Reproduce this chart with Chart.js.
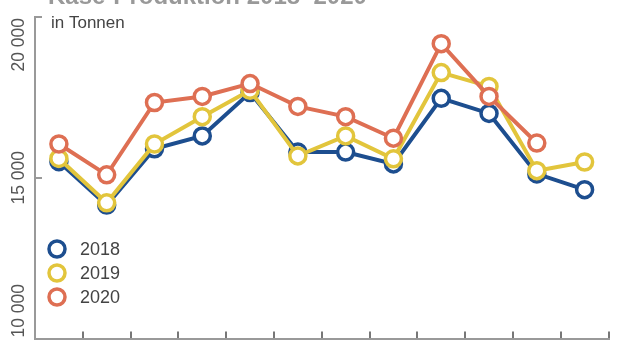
<!DOCTYPE html>
<html>
<head>
<meta charset="utf-8">
<script src="https://cdn.jsdelivr.net/npm/chart.js@4"></script>
<style>
  html, body { margin: 0; padding: 0; background: #fff; }
  #wrap { width: 620px; height: 350px; position: relative; }
</style>
</head>
<body>
<div id="wrap"><canvas id="prodChart" width="620" height="350"></canvas></div>
<script>
// months (12 bins)
var months = ['Jan', 'Feb', 'Mär', 'Apr', 'Mai', 'Jun', 'Jul', 'Aug', 'Sep', 'Okt', 'Nov', 'Dez'];
var years = ['2018', '2019', '2020'];
var data2018 = [15500, 14150, 15900, 16300, 17650, 15800, 15800, 15430, 17470, 17000, 15120, 14630];
var data2019 = [15600, 14220, 16050, 16900, 17720, 15680, 16300, 15590, 18270, 17840, 15220, 15490];
var data2020 = [16050, 15090, 17340, 17530, 17930, 17220, 16900, 16230, 19170, 17530, 16080, null];
var yTicks = [10000, 15000, 20000];
var colors = ['#1d4e8f', '#e2c53c', '#de6f53'];

function fmt(v) {
  return String(v).replace(/\B(?=(\d{3})+(?!\d))/g, ' ');
}

// y labels are drawn rotated, first/last kept inside the axis
var extras = {
  id: 'extras',
  afterDraw: function (chart) {
    var ctx = chart.ctx;
    var y = chart.scales.y;
    ctx.save();
    ctx.fillStyle = '#555';
    ctx.font = '17.5px "Liberation Sans", Arial, sans-serif';
    ctx.textBaseline = 'alphabetic';
    yTicks.forEach(function (v, i) {
      var py = y.getPixelForValue(v);
      ctx.save();
      ctx.translate(24, py);
      ctx.rotate(-Math.PI / 2);
      ctx.textAlign = i === 0 ? 'left' : (i === yTicks.length - 1 ? 'right' : 'center');
      ctx.fillText(fmt(v), i === 0 ? 1 : (i === yTicks.length - 1 ? -1 : 0), 0);
      ctx.restore();
    });

    // unit text
    ctx.fillStyle = '#444';
    ctx.font = '17px "Liberation Sans Narrow", "Liberation Sans", sans-serif';
    ctx.textAlign = 'left';
    ctx.fillText('in Tonnen', 51, 28);

    // title, mostly cut off at the top
    ctx.fillStyle = '#999';
    ctx.font = 'bold 24px "Liberation Sans Narrow", "Liberation Sans", sans-serif';
    ctx.fillText('Käse-Produktion 2018–2020', 48, 4);

    // legend
    ctx.font = '18px "Liberation Sans", Arial, sans-serif';
    ctx.textBaseline = 'middle';
    chart.data.datasets.forEach(function (ds, i) {
      var cy = 249 + i * 24;
      ctx.beginPath();
      ctx.arc(57, cy, 8, 0, Math.PI * 2);
      ctx.fillStyle = '#fff';
      ctx.fill();
      ctx.lineWidth = 3.5;
      ctx.strokeStyle = ds.borderColor;
      ctx.stroke();
      ctx.fillStyle = '#444';
      ctx.fillText(ds.label, 80, cy + 1);
    });
    ctx.restore();
  }
};

function makeSet(label, values, color, order) {
  return {
    label: label,
    data: values,
    borderColor: color,
    backgroundColor: '#fff',
    pointBackgroundColor: '#fff',
    pointBorderColor: color,
    pointRadius: 8,
    pointBorderWidth: 3.5,
    borderWidth: 4,
    tension: 0,
    fill: false,
    order: order
  };
}

var ctx = document.getElementById('prodChart').getContext('2d');
var chart = new Chart(ctx, {
  type: 'line',
  data: {
    labels: months,
    datasets: [
      makeSet(years[0], data2018, colors[0], 2),
      makeSet(years[1], data2019, colors[1], 1),
      makeSet(years[2], data2020, colors[2], 0)
    ]
  },
  options: {
    responsive: false,
    animation: false,
    layout: { padding: { top: 17, right: 9, left: 0, bottom: 0 } },
    plugins: {
      legend: { display: false },
      tooltip: { enabled: false },
      title: { display: false }
    },
    scales: {
      x: {
        offset: true,
        grid: {
          offset: true,
          drawOnChartArea: false,
          drawTicks: true,
          tickLength: -7,
          color: '#777',
          lineWidth: 2
        },
        border: { color: '#999', width: 2 },
        ticks: { display: false },
        afterFit: function (s) { s.height = 9; }
      },
      y: {
        min: 10000,
        max: 20000,
        ticks: { display: false, stepSize: 5000 },
        grid: {
          drawOnChartArea: false,
          drawTicks: true,
          tickLength: -7,
          color: '#999',
          lineWidth: 2
        },
        border: { color: '#999', width: 2 },
        afterFit: function (s) { s.width = 35; }
      }
    }
  },
  plugins: [extras]
});
</script>
</body>
</html>
